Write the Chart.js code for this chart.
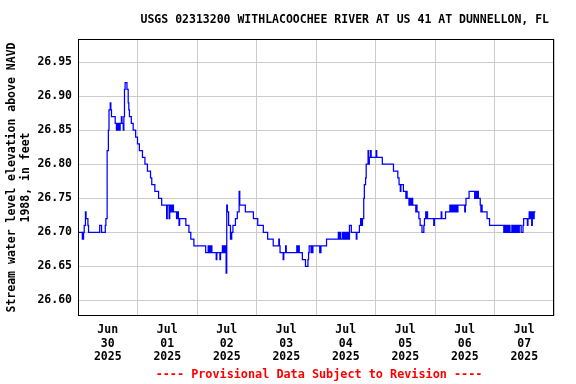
<!DOCTYPE html>
<html>
<head>
<meta charset="utf-8">
<script src="https://cdn.jsdelivr.net/npm/chart.js@4.4.1/dist/chart.umd.min.js"></script>
<style>
    html, body { margin: 0; padding: 0; background: #fff; }
</style>
</head>
<body>
<canvas id="chart" width="576" height="384"></canvas>
<script>
// Gage readings: hour since Jun 30 2025 00:00 when the reading changes, and the new reading (ft)
const hours = [
    0, 1.75, 2.25, 2.5, 3.0, 3.25, 4.0, 4.25, 8.75, 9.5, 11.0, 11.25, 11.75, 12.25, 12.5, 13.0, 13.25, 13.5,
    15.0, 15.5, 15.75, 16.0, 16.25, 16.5, 17.0, 17.5, 17.75, 18.25, 18.5, 18.75, 19.0, 19.75, 20.25, 20.5, 20.75,
    21.5, 22.25, 23.25, 24.0, 24.75, 26.0, 27.0, 28.0, 29.25, 29.75, 31.0, 32.5, 33.75,
    35.75, 36.0, 36.75, 37.0, 37.25, 37.5, 37.75, 38.0, 38.25, 38.5, 39.75, 40.0, 40.5, 40.75, 41.0,
    43.5, 44.75, 45.5, 46.75,
    51.5, 52.5, 53.0, 53.5, 54.0, 55.75, 56.0, 57.25, 57.5, 58.25, 58.5, 59.0, 59.25, 59.5, 59.75, 60.0, 60.25,
    60.75, 61.5, 62.0, 62.5, 63.5, 64.25, 65.0, 65.25, 67.5, 70.75, 72.5, 74.75, 76.5, 78.75,
    81.0, 81.25, 81.5, 82.75, 83.0, 83.75, 84.0, 88.25, 88.5, 89.0, 89.25, 90.5, 91.75, 92.75, 93.0, 93.25,
    94.0, 94.25, 94.5, 94.75, 97.5, 98.0, 100.25,
    105.0, 105.25, 105.75, 106.0, 106.75, 107.25, 107.75, 108.0, 108.5, 109.0, 109.5, 110.25, 112.25, 112.5,
    113.5, 114.0, 114.5, 114.75, 115.25, 115.5, 116.0, 116.25, 116.75, 117.0, 117.25, 117.5, 118.0, 118.25,
    120.25, 120.5, 122.75, 127.25, 129.0, 129.5, 130.0, 130.25, 131.25, 132.25, 132.5, 132.75, 133.5, 133.75,
    134.25, 134.5, 135.0, 136.25, 136.5, 136.75, 137.5, 138.0, 138.75, 139.25, 139.5, 139.75, 140.25, 140.5,
    140.75, 141.0, 143.5, 143.75,
    146.5, 146.75, 148.25, 150.0, 150.5, 150.75, 151.25, 151.5, 152.0, 152.25, 152.75, 153.25, 156.0, 156.25,
    156.5, 157.75, 160.0, 160.25, 160.75, 161.0, 161.5, 162.25, 162.5, 162.75, 163.0, 165.0, 166.0,
    171.75, 172.25, 172.75, 173.0, 173.5, 173.75, 174.25, 175.0, 175.5, 175.75, 176.25, 176.75, 177.0, 177.5,
    177.75, 178.0, 178.75, 179.5, 179.75, 181.25, 181.5, 182.0, 182.5, 182.75, 183.0, 183.25, 183.5, 184.0, 184.5
];
const levels = [
    26.70, 26.69, 26.70, 26.71, 26.73, 26.72, 26.71, 26.70, 26.71, 26.70, 26.71, 26.72, 26.82, 26.85, 26.88, 26.89, 26.88, 26.87,
    26.86, 26.85, 26.86, 26.85, 26.86, 26.85, 26.86, 26.87, 26.86, 26.85, 26.87, 26.91, 26.92, 26.91, 26.89, 26.88, 26.87,
    26.86, 26.85, 26.84, 26.83, 26.82, 26.81, 26.80, 26.79, 26.78, 26.77, 26.76, 26.75, 26.74,
    26.72, 26.74, 26.72, 26.73, 26.74, 26.73, 26.74, 26.73, 26.74, 26.73, 26.72, 26.73, 26.72, 26.71, 26.72,
    26.71, 26.70, 26.69, 26.68,
    26.67, 26.68, 26.67, 26.68, 26.67, 26.66, 26.67, 26.66, 26.67, 26.68, 26.67, 26.68, 26.67, 26.68, 26.64, 26.74, 26.73,
    26.71, 26.69, 26.70, 26.71, 26.72, 26.73, 26.76, 26.74, 26.73, 26.72, 26.71, 26.70, 26.69, 26.68,
    26.69, 26.68, 26.67, 26.66, 26.67, 26.68, 26.67, 26.68, 26.67, 26.68, 26.67, 26.66, 26.65, 26.66, 26.67, 26.68,
    26.67, 26.68, 26.67, 26.68, 26.67, 26.68, 26.69,
    26.70, 26.69, 26.70, 26.69, 26.70, 26.69, 26.70, 26.69, 26.70, 26.69, 26.71, 26.70, 26.69, 26.70,
    26.71, 26.72, 26.71, 26.72, 26.75, 26.77, 26.78, 26.80, 26.80, 26.82, 26.80, 26.81, 26.82, 26.81,
    26.82, 26.81, 26.80, 26.79, 26.78, 26.77, 26.76, 26.77, 26.76, 26.75, 26.76, 26.75, 26.74, 26.75,
    26.74, 26.75, 26.74, 26.73, 26.74, 26.73, 26.72, 26.71, 26.70, 26.70, 26.71, 26.72, 26.73, 26.72,
    26.73, 26.72, 26.71, 26.72,
    26.73, 26.72, 26.73, 26.74, 26.73, 26.74, 26.73, 26.74, 26.73, 26.74, 26.73, 26.74, 26.73, 26.74,
    26.75, 26.76, 26.75, 26.76, 26.75, 26.76, 26.75, 26.74, 26.73, 26.74, 26.73, 26.72, 26.71,
    26.70, 26.71, 26.70, 26.71, 26.70, 26.71, 26.70, 26.71, 26.70, 26.71, 26.70, 26.71, 26.70, 26.71,
    26.70, 26.71, 26.70, 26.71, 26.72, 26.71, 26.72, 26.73, 26.72, 26.73, 26.71, 26.73, 26.72, 26.73, 26.73
];

// x axis: one grid line per midnight, date label at noon
const gridHours = [0, 24, 48, 72, 96, 120, 144, 168, 192];
const labelHours = [12, 36, 60, 84, 108, 132, 156, 180];
const dayLabels = [
    ['Jun', '30', '2025'], ['Jul', '01', '2025'], ['Jul', '02', '2025'], ['Jul', '03', '2025'],
    ['Jul', '04', '2025'], ['Jul', '05', '2025'], ['Jul', '06', '2025'], ['Jul', '07', '2025']
];
const yTicks = [26.60, 26.65, 26.70, 26.75, 26.80, 26.85, 26.90, 26.95];

const chartTitle = 'USGS 02313200 WITHLACOOCHEE RIVER AT US 41 AT DUNNELLON, FL';
const yTitle = ['Stream water level elevation above NAVD', '1988, in feet'];
const footNote = '---- Provisional Data Subject to Revision ----';

const monoBold = { family: '"DejaVu Sans Mono", "Liberation Mono", monospace', size: 11.5, weight: 'bold', lineHeight: 1.2 };

// frame round the plot, plus title and footer text
const extras = {
    id: 'extras',
    afterDatasetsDraw(chart) {
        const ctx = chart.ctx;
        const a = chart.chartArea;
        ctx.save();
        ctx.strokeStyle = '#000';
        ctx.lineWidth = 1;
        ctx.strokeRect(a.left + 0.5, a.top + 0.5, a.right - a.left - 1, a.bottom - a.top - 1);
        ctx.font = 'bold 11.5px "DejaVu Sans Mono", "Liberation Mono", monospace';
        ctx.textBaseline = 'middle';
        ctx.fillStyle = '#000';
        ctx.textAlign = 'right';
        ctx.fillText(chartTitle, a.right - 5, 20);
        ctx.fillStyle = '#ff0000';
        ctx.font = 'bold 11.8px "DejaVu Sans Mono", "Liberation Mono", monospace';
        ctx.textAlign = 'center';
        ctx.fillText(footNote, (a.left + a.right) / 2 + 3, 375);
        ctx.restore();
    }
};

const points = hours.map((h, i) => ({ x: h, y: levels[i] }));

const ctx = document.getElementById('chart').getContext('2d');
new Chart(ctx, {
    type: 'line',
    data: {
        datasets: [{
            data: points,
            borderColor: '#0000ff',
            borderWidth: 1.25,
            pointRadius: 0,
            stepped: true,
            fill: false
        }]
    },
    options: {
        responsive: false,
        animation: false,
        layout: { padding: { top: 39, right: 22, left: 0, bottom: 0 } },
        plugins: {
            legend: { display: false },
            tooltip: { enabled: false }
        },
        scales: {
            x: {
                type: 'linear',
                min: 0,
                max: 192,
                afterBuildTicks: function(scale) {
                    scale.ticks = gridHours.concat(labelHours).sort((a, b) => a - b).map(v => ({ value: v }));
                },
                afterFit: function(scale) { scale.height = 68; },
                border: { display: false },
                grid: {
                    drawTicks: false,
                    color: c => (c.tick && c.tick.value % 24 === 0) ? '#cccccc' : 'rgba(0,0,0,0)'
                },
                ticks: {
                    autoSkip: false,
                    maxRotation: 0,
                    padding: 7,
                    color: '#000',
                    font: monoBold,
                    callback: function(value) {
                        const i = labelHours.indexOf(value);
                        return i >= 0 ? dayLabels[i] : '';
                    }
                }
            },
            y: {
                min: 26.577,
                max: 26.984,
                afterBuildTicks: function(scale) {
                    scale.ticks = yTicks.map(v => ({ value: v }));
                },
                afterFit: function(scale) { scale.width = 78; },
                border: { display: false },
                grid: { drawTicks: false, color: '#cccccc' },
                ticks: {
                    padding: 6,
                    color: '#000',
                    font: monoBold,
                    callback: v => v.toFixed(2)
                },
                title: {
                    display: true,
                    text: yTitle,
                    color: '#000',
                    font: monoBold,
                    padding: { top: 5, bottom: 0 }
                }
            }
        }
    },
    plugins: [extras]
});
</script>
</body>
</html>
